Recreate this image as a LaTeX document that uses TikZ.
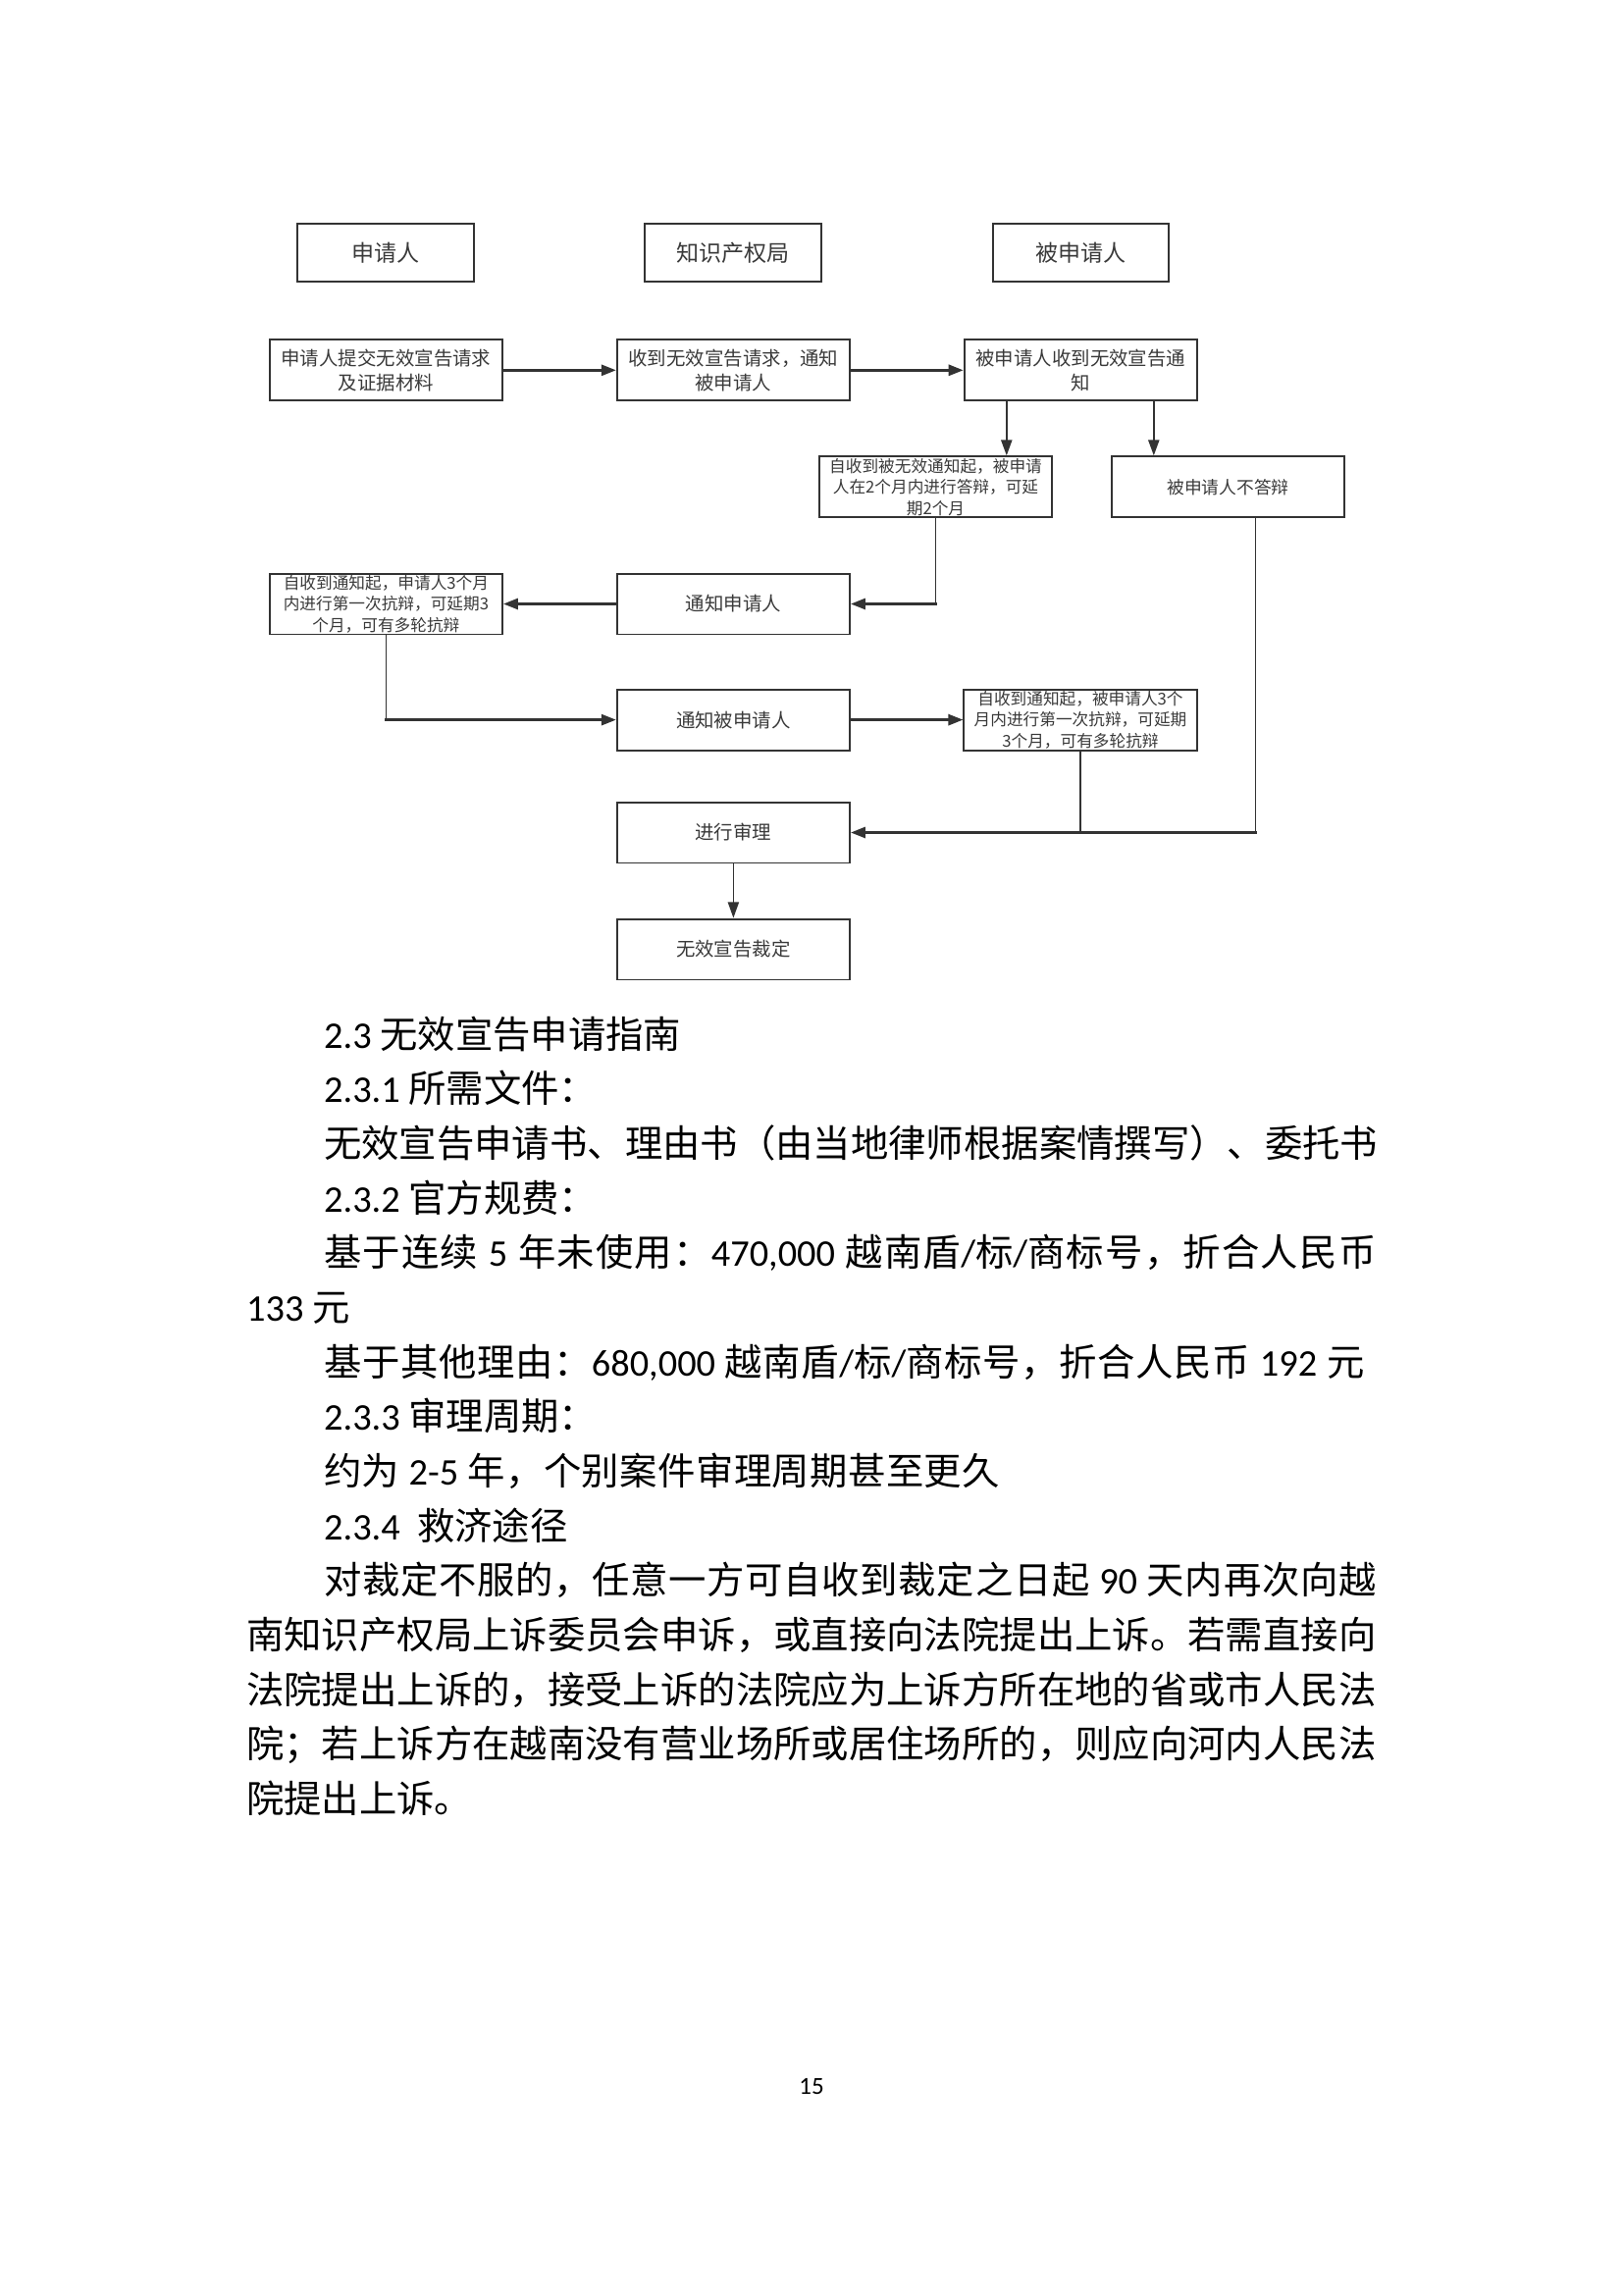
\documentclass[tikz,border=0pt]{standalone}
\usepackage{fontspec}
\setmainfont{Noto Sans CJK SC}
\newfontfamily\lat{Carlito}
\usetikzlibrary{arrows.meta,calc}
\definecolor{lc}{HTML}{333333}
\definecolor{tc}{HTML}{3A3A3A}
\newcount\cjkc
\cjkc="4E00
\loop\ifnum\cjkc<"A000 \XeTeXcharclass\cjkc=7 \advance\cjkc by 1 \repeat
\XeTeXcharclass"FF0C=7 \XeTeXcharclass"FF1A=7 \XeTeXcharclass"3001=7 \XeTeXcharclass"3002=7
\XeTeXcharclass"FF08=7 \XeTeXcharclass"FF09=7 \XeTeXcharclass"FF1B=7
\XeTeXinterchartoks 7 7 = {\hskip 0pt plus 1pt\relax}
\newcommand\jline[2]{\makebox[#1][s]{\XeTeXinterchartokenstate=1 #2}}
\newcommand\bodyf{\fontsize{13.81pt}{20pt}\selectfont}
\newcommand\hdf{\fontsize{8.3pt}{10pt}\selectfont}
\newcommand\rwf{\fontsize{7pt}{9pt}\selectfont}
\newcommand\smf{\fontsize{6pt}{7.74pt}\selectfont}
\begin{document}
\begin{tikzpicture}[x=0.36pt,y=-0.36pt,
  hbox/.style={draw=lc, line width=0.7pt, minimum width=64.6pt, minimum height=21.5pt, inner sep=0pt, align=center, text=tc, font=\hdf},
  fbox/.style={draw=lc, line width=0.7pt, minimum width=85.4pt, minimum height=22.3pt, inner sep=0pt, align=center, text=tc, font=\rwf},
  sbox/.style={fbox, font=\smf},
  harrow/.style={draw=lc, line width=0.9pt, -{Triangle[length=5.4pt,width=4pt]}},
  varrow/.style={draw=lc, line width=0.75pt, -{Triangle[length=5.8pt,width=4pt]}},
  vthin/.style={draw=lc, line width=0.5pt},
  body/.style={anchor=base west, inner sep=0pt, font=\bodyf, text=black}]
\fill[white] (0,0) rectangle (1654,2339);
\useasboundingbox (0,0) rectangle (1654,2339);

% header boxes
\node[hbox] (h1) at (393,257.5) {申请人};
\node[hbox] (h2) at (747,257.5) {知识产权局};
\node[hbox] (h3) at (1101.4,257.5) {被申请人};

% flow boxes
\node[fbox] (a1) at (393.4,377.3) {申请人提交无效宣告请求\\及证据材料};
\node[fbox] (a2) at (747.4,377.3) {收到无效宣告请求，通知\\被申请人};
\node[fbox] (a3) at (1101.3,377.3) {被申请人收到无效宣告通\\知};
\node[sbox] (b1) at (953.5,496.3) {自收到被无效通知起，被申请\\人在2个月内进行答辩，可延\\期2个月};
\node[fbox, font=\fontsize{6.4pt}{8pt}\selectfont] (b2) at (1251.5,496.3) {被申请人不答辩};
\node[sbox] (c1) at (393.4,615.5) {自收到通知起，申请人3个月\\内进行第一次抗辩，可延期3\\个月，可有多轮抗辩};
\node[fbox] (c2) at (747.4,615.5) {通知申请人};
\node[fbox] (d1) at (747.4,733.6) {通知被申请人};
\node[sbox] (d2) at (1101,733.6) {自收到通知起，被申请人3个\\月内进行第一次抗辩，可延期\\3个月，可有多轮抗辩};
\node[fbox] (e1) at (747.4,848.5) {进行审理};
\node[fbox] (f1) at (747.4,967.5) {无效宣告裁定};

% connectors
\draw[harrow] (a1) -- (a2);
\draw[harrow] (a2) -- (a3);
\draw[varrow] ($(a3.south)+(-75.5,0)$) coordinate (t1) -- (t1 |- b1.north);
\draw[varrow] ($(a3.south)+(74.5,0)$) coordinate (t2) -- (t2 |- b2.north);
\draw[vthin] (b1.south) -- (b1.south |- c2.east) coordinate (k1);
\draw[harrow] ($(k1)+(1,0)$) -- (c2.east);
\draw[harrow] (c2) -- (c1);
\draw[vthin] (c1.south) -- (c1.south |- d1.west) coordinate (k2);
\draw[harrow] ($(k2)+(-1,0)$) -- (d1.west);
\draw[harrow] (d1) -- (d2);
\draw[vthin] (d2.south) -- (d2.south |- e1.east);
\draw[vthin] ($(b2.south)+(28.1,0)$) coordinate (t3) -- (t3 |- e1.east) coordinate (k3);
\draw[harrow] ($(k3)+(1,0)$) -- (e1.east);
\draw[varrow, line width=0.6pt] (e1) -- (f1);

% body text
\node[body] (t0) at (329.6,1068.3) {{\lat 2.3 }无效宣告申请指南};
\node[body] (t1b) at (329.6,1123.95) {{\lat 2.3.1 }所需文件：};
\node[body] (t2b) at (329.6,1179.6) {无效宣告申请书、理由书（由当地律师根据案情撰写）、委托书};
\node[body] (t3b) at (329.6,1235.25) {{\lat 2.3.2 }官方规费：};
\node[body] (t4) at (329.6,1290.9) {\jline{386.06pt}{基于连续{\lat\ 5 }年未使用：{\lat 470,000 }越南盾{\lat /}标{\lat /}商标号，折合人民币}};
\node[body] (t5) at (250.6,1346.55) {{\lat 133 }元};
\node[body] (t6) at (329.6,1402.2) {\jline{381.7pt}{基于其他理由：{\lat 680,000 }越南盾{\lat /}标{\lat /}商标号，折合人民币{\lat\ 192 }元}};
\node[body] (t7) at (329.6,1457.85) {{\lat 2.3.3 }审理周期：};
\node[body] (t8) at (329.6,1513.5) {\jline{248pt}{约为{\lat\ 2-5 }年，个别案件审理周期甚至更久}};
\node[body] (t9) at (329.6,1569.15) {{\lat 2.3.4\ \ }救济途径};
\node[body] (t10) at (329.6,1624.8) {\jline{386.06pt}{对裁定不服的，任意一方可自收到裁定之日起{\lat\ 90 }天内再次向越}};
\node[body] (t11) at (250.6,1680.45) {\jline{414.5pt}{南知识产权局上诉委员会申诉，或直接向法院提出上诉。若需直接向}};
\node[body] (t12) at (250.6,1736.1) {\jline{414.5pt}{法院提出上诉的，接受上诉的法院应为上诉方所在地的省或市人民法}};
\node[body] (t13) at (250.6,1791.75) {\jline{414.5pt}{院；若上诉方在越南没有营业场所或居住场所的，则应向河内人民法}};
\node[body] (t14) at (250.6,1847.4) {院提出上诉。};

% page number
\node[anchor=base, inner sep=0pt, font=\lat\fontsize{9pt}{11pt}\selectfont] (pg) at (827,2134) {15};
\end{tikzpicture}
\end{document}
